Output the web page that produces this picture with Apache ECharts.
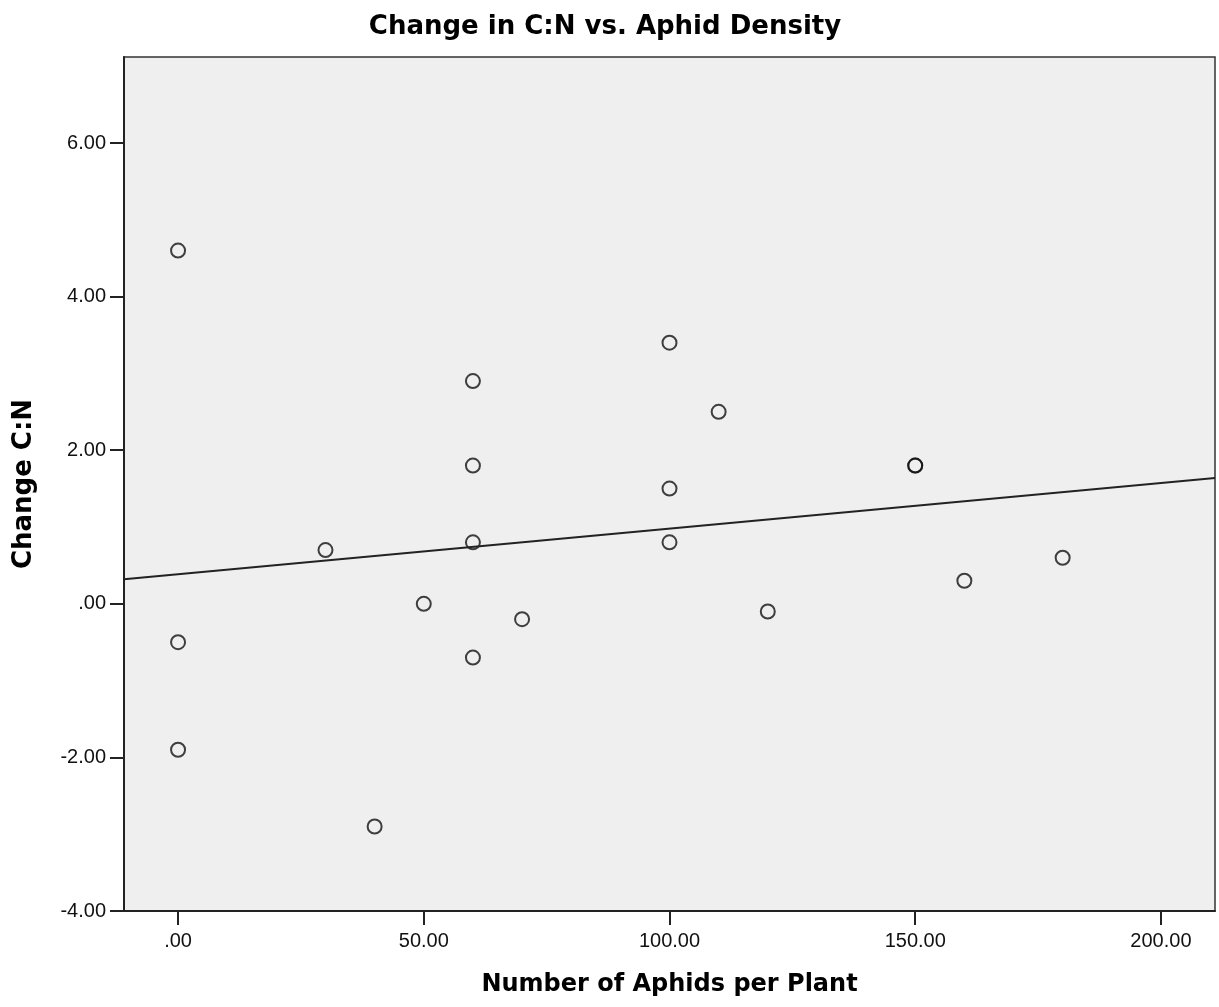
<!DOCTYPE html>
<html>
<head>
<meta charset="utf-8">
<script src="https://cdn.jsdelivr.net/npm/echarts@6/dist/echarts.min.js"></script>
<style>
  html, body { margin: 0; padding: 0; background: #fff; }
  #chart { width: 1219px; height: 1007px; }
</style>
</head>
<body>
<div id="chart"></div>
<script>
// aphids per plant vs change in C:N
const aphids = [0, 0, 0, 30, 40, 50, 60, 60, 60, 60, 70, 100, 100, 100, 110, 120, 150, 150, 160, 180];
const changeCN = [4.6, -0.5, -1.9, 0.7, -2.9, 0.0, 2.9, 1.8, 0.8, -0.7, -0.2, 3.4, 1.5, 0.8, 2.5, -0.1, 1.8, 1.8, 0.3, 0.6];
const xTicks = [0, 50, 100, 150, 200];
const yTicks = [-4, -2, 0, 2, 4, 6];
const xRange = [-11, 211];
const yRange = [-4, 7.12];

// least squares fit line
const n = aphids.length;
const mx = aphids.reduce((a, b) => a + b, 0) / n;
const my = changeCN.reduce((a, b) => a + b, 0) / n;
let sxy = 0, sxx = 0;
for (let i = 0; i < n; i++) {
  sxy += (aphids[i] - mx) * (changeCN[i] - my);
  sxx += (aphids[i] - mx) * (aphids[i] - mx);
}
const slope = sxy / sxx;
const intercept = my - slope * mx;
const fitLine = xRange.map(x => [x, intercept + slope * x]);

const fmt = v => {
  let s = Math.abs(v).toFixed(2);
  if (s.startsWith('0')) s = s.slice(1);
  return (v < 0 ? '-' : '') + s;
};

const tickFont = 'Liberation Sans, Arial, sans-serif';
const boldFont = 'DejaVu Sans, sans-serif';
const chart = echarts.init(document.getElementById('chart'));
chart.setOption({
  animation: false,
  title: {
    text: 'Change in C:N vs. Aphid Density',
    left: 600,
    textAlign: 'center',
    top: 9,
    textStyle: { fontFamily: boldFont, fontSize: 26, fontWeight: 'bold', color: '#000' }
  },
  grid: {
    left: 124, top: 57, right: 4, bottom: 96,
    show: true,
    backgroundColor: '#efefef',
    borderColor: '#333',
    borderWidth: 1.5
  },
  xAxis: {
    type: 'value',
    min: xRange[0],
    max: xRange[1],
    name: 'Number of Aphids per Plant',
    nameLocation: 'middle',
    nameGap: 62,
    nameTextStyle: { fontFamily: boldFont, fontSize: 24, fontWeight: 'bold', color: '#000' },
    splitLine: { show: false },
    axisLine: { show: true, onZero: false, lineStyle: { color: '#222', width: 2 } },
    axisTick: { show: true, length: 14, customValues: xTicks, lineStyle: { color: '#222', width: 2 } },
    axisLabel: { customValues: xTicks, formatter: fmt, margin: 20, fontFamily: tickFont, fontSize: 20, color: '#111' }
  },
  yAxis: {
    type: 'value',
    min: yRange[0],
    max: yRange[1],
    name: 'Change C:N',
    nameLocation: 'middle',
    nameGap: 87,
    nameTextStyle: { fontFamily: boldFont, fontSize: 26, fontWeight: 'bold', color: '#000' },
    splitLine: { show: false },
    axisLine: { show: true, onZero: false, lineStyle: { color: '#222', width: 2 } },
    axisTick: { show: true, length: 14, customValues: yTicks, lineStyle: { color: '#222', width: 2 } },
    axisLabel: { customValues: yTicks, formatter: fmt, margin: 18, fontFamily: tickFont, fontSize: 20, color: '#111' }
  },
  series: [
    {
      type: 'line',
      data: fitLine,
      showSymbol: false,
      lineStyle: { color: '#222', width: 2 },
      silent: true
    },
    {
      type: 'scatter',
      data: aphids.map((x, i) => [x, changeCN[i]]),
      symbol: 'circle',
      symbolSize: 14,
      itemStyle: { color: 'rgba(0,0,0,0)', borderColor: '#111', borderWidth: 2 }
    }
  ]
});
</script>
</body>
</html>
